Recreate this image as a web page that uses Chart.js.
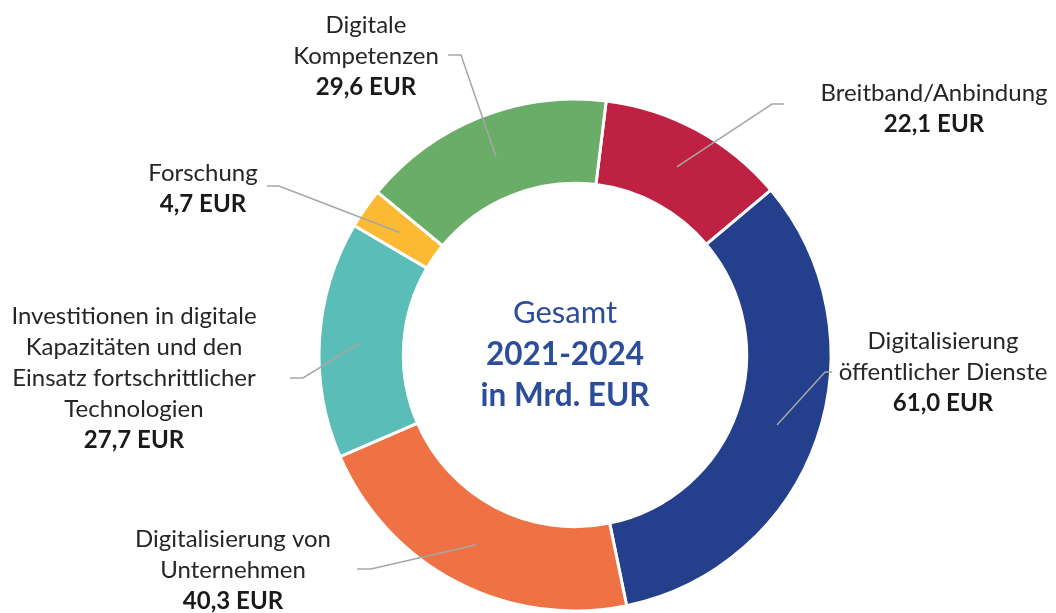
<!DOCTYPE html>
<html><head><meta charset="utf-8">
<script src="https://cdn.jsdelivr.net/npm/chart.js@4/dist/chart.umd.min.js"></script>
<style>html,body{margin:0;padding:0;background:#fff;overflow:hidden}</style>
</head><body>
<canvas id="c" width="1056" height="613"></canvas>
<script>
// ---- data ----
const categories = [
  ["Breitband/Anbindung"],
  ["Digitalisierung", "öffentlicher Dienste"],
  ["Digitalisierung von", "Unternehmen"],
  ["Investitionen in digitale", "Kapazitäten und den", "Einsatz fortschrittlicher", "Technologien"],
  ["Forschung"],
  ["Digitale", "Kompetenzen"]
];
const values = [22.1, 61.0, 40.3, 27.7, 4.7, 29.6];
const unit = "EUR";
const centerLines = ["Gesamt", "2021-2024", "in Mrd. EUR"];
const colors = ["#bf2142", "#243f8c", "#ef7245", "#5bbdb7", "#fbb934", "#69ad68"];

// ---- layout (positions of annotation labels) ----
const labelLayout = [
  {cx: 934, y: 93,  stub: [[784,104],[772,104]]},
  {cx: 943, y: 341, stub: [[832,372],[825,372]]},
  {cx: 233, y: 539, stub: [[357,569],[371,569]]},
  {cx: 134, y: 316, stub: [[290,378],[303,378]]},
  {cx: 203, y: 173, stub: [[267,186],[279,186]]},
  {cx: 366, y: 25,  stub: [[448,55],[461,55]]}
];
const LH = 31;
const FONT = "Lato, 'Open Sans', sans-serif";

function fmt(v){ return v.toFixed(1).replace('.', ',') + ' ' + unit; }

const annot = {
  id: 'annot',
  afterDraw(chart){
    const ctx = chart.ctx;
    const meta = chart.getDatasetMeta(0);
    ctx.save();
    // leader lines
    ctx.strokeStyle = '#a6a6a6';
    ctx.lineWidth = 1.5;
    meta.data.forEach((arc, i) => {
      const p = arc.getCenterPoint();
      const L = labelLayout[i];
      ctx.beginPath();
      ctx.moveTo(L.stub[0][0], L.stub[0][1]);
      ctx.lineTo(L.stub[1][0], L.stub[1][1]);
      ctx.lineTo(p.x, p.y);
      ctx.stroke();
    });
    // labels
    ctx.textAlign = 'center';
    ctx.textBaseline = 'middle';
    categories.forEach((lines, i) => {
      const L = labelLayout[i];
      ctx.fillStyle = '#262626';
      ctx.font = "24px " + FONT;
      lines.forEach((t, k) => ctx.fillText(t, L.cx, L.y + k*LH));
      ctx.font = "bold 24px " + FONT;
      ctx.fillStyle = '#1a1a1a';
      ctx.fillText(fmt(values[i]), L.cx, L.y + lines.length*LH);
    });
    // center text
    ctx.fillStyle = '#2c4c9c';
    const cx = 565;
    ctx.font = "31px " + FONT;
    ctx.fillText(centerLines[0], cx, 313);
    ctx.font = "bold 31.5px " + FONT;
    ctx.fillText(centerLines[1], cx, 355);
    ctx.fillText(centerLines[2], cx, 396);
    ctx.restore();
  }
};

new Chart(document.getElementById('c'), {
  type: 'doughnut',
  data: {
    labels: categories.map(l => l.join(' ')),
    datasets: [{
      data: values,
      backgroundColor: colors,
      borderColor: '#ffffff',
      borderWidth: 3,
      hoverOffset: 0
    }]
  },
  options: {
    responsive: false,
    animation: false,
    rotation: 7,
    radius: 256,
    cutout: 170,
    layout: {padding: {left: 320, right: 226, top: 100, bottom: 3}},
    plugins: {legend: {display: false}, tooltip: {enabled: false}}
  },
  plugins: [annot]
});
</script>
</body></html>
